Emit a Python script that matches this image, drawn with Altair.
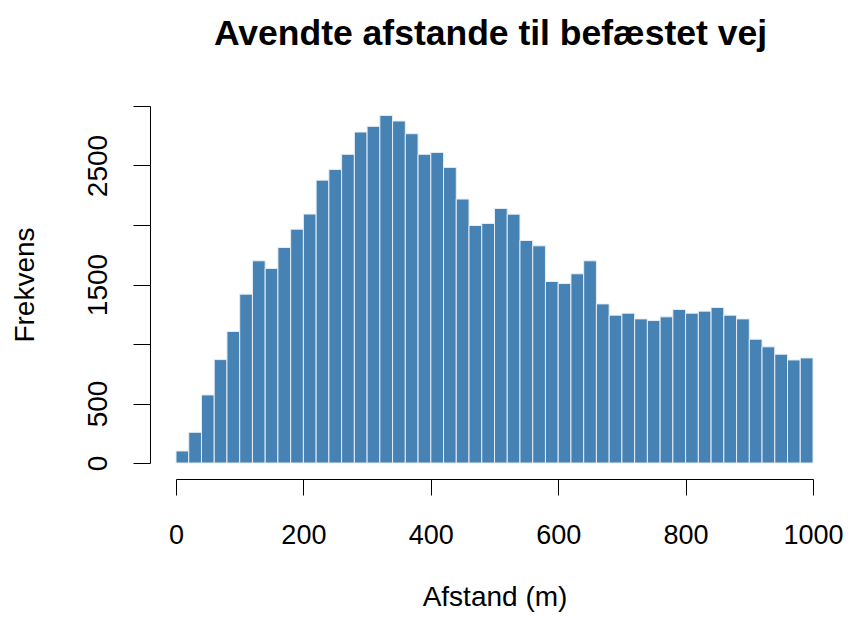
import altair as alt
import pandas as pd

bin_width = 20
counts = [101, 258, 572, 869, 1105, 1419, 1699, 1635, 1811, 1965,
          2092, 2377, 2467, 2594, 2781, 2829, 2921, 2874, 2767, 2594,
          2610, 2484, 2218, 1996, 2013, 2139, 2091, 1870, 1825, 1525,
          1508, 1590, 1699, 1337, 1242, 1259, 1211, 1197, 1228, 1290,
          1259, 1276, 1307, 1242, 1211, 1040, 976, 914, 866, 883]
x_ticks = [0, 200, 400, 600, 800, 1000]
y_ticks = [0, 500, 1000, 1500, 2000, 2500, 3000]
y_shown = [0, 500, 1500, 2500]

df = pd.DataFrame({
    "start": [i * bin_width for i in range(len(counts))],
    "end": [(i + 1) * bin_width for i in range(len(counts))],
    "count": counts,
})

FONT = "Liberation Sans"
label_expr = " || ".join(f"datum.value == {v}" for v in y_shown)

chart = alt.Chart(df).mark_bar(
    color="#4682B4", stroke="#e6eef5", strokeWidth=1
).encode(
    x=alt.X("start:Q", scale=alt.Scale(domain=[0, 1000], nice=False, zero=False),
            axis=alt.Axis(values=x_ticks, title="Afstand (m)", grid=False, format="d",
                          offset=16, tickSize=16, tickColor="black", domainColor="black",
                          labelFont=FONT, labelFontSize=27, labelColor="black",
                          labelBaseline="alphabetic", labelPadding=48,
                          labelFlush=False, labelOverlap=False,
                          titleFont=FONT, titleFontSize=28, titleFontWeight="normal",
                          titleColor="black", titleBaseline="alphabetic", titlePadding=57)),
    x2="end:Q",
    y=alt.Y("count:Q", scale=alt.Scale(domain=[0, 3000], nice=False),
            axis=alt.Axis(values=y_ticks, title="Frekvens", grid=False, format="d",
                          labelExpr=f"({label_expr}) ? datum.label : ''",
                          offset=26, tickSize=17, tickColor="black", domainColor="black",
                          labelFont=FONT, labelFontSize=28, labelColor="black",
                          labelAngle=270, labelAlign="center", labelBaseline="alphabetic",
                          labelPadding=27, labelOverlap=False, labelFlush=False,
                          titleFont=FONT, titleFontSize=28, titleFontWeight="normal",
                          titleColor="black", titleBaseline="alphabetic", titlePadding=51)),
    y2=alt.datum(0),
).properties(
    width=637, height=357,
    title=alt.TitleParams("Avendte afstande til befæstet vej", font=FONT, fontSize=35.5,
                          fontWeight="bold", color="black", anchor="middle", frame="group",
                          baseline="alphabetic", offset=25, dx=-4),
    autosize=alt.AutoSizeParams(type="none"),
    padding={"left": 168, "top": 98, "right": 30, "bottom": 150},
).configure_view(stroke=None)

chart.save("out.html", embed_options={"renderer": "svg", "actions": False})
